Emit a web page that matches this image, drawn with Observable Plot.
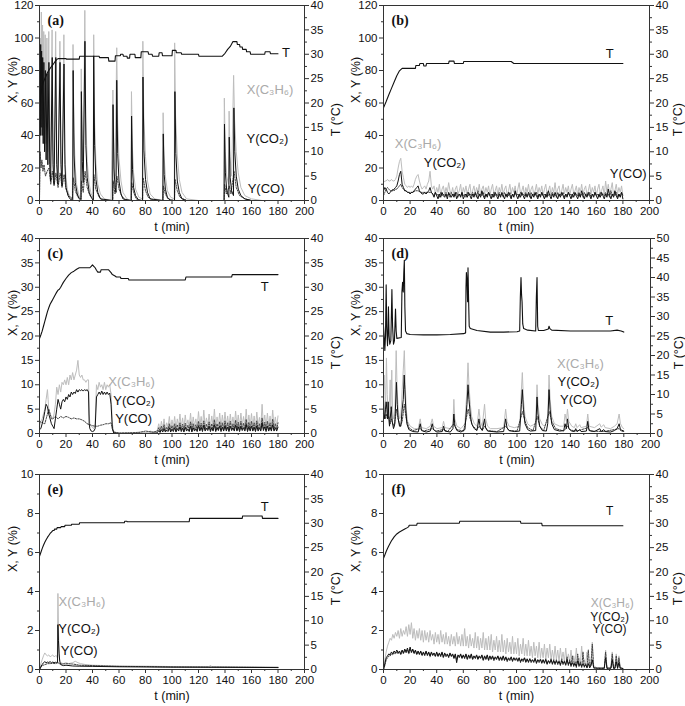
<!DOCTYPE html>
<html><head><meta charset="utf-8">
<script src="https://cdn.jsdelivr.net/npm/d3@7"></script>
<script src="https://cdn.jsdelivr.net/npm/@observablehq/plot@0.6"></script>
<style>
body{margin:0;background:#fff}
#wrap{position:relative;width:685px;height:706px;background:#fff;overflow:hidden}
.p{position:absolute}
</style></head>
<body><div id="wrap"></div>
<script>
// ---------- tick labels ----------
const xTicks = [0,20,40,60,80,100,120,140,160,180,200];
const xMinor = [10,30,50,70,90,110,130,150,170,190];
const yTicks120 = [0,20,40,60,80,100,120];
const yMinor120 = [10,30,50,70,90,110];
const yTicks40 = [0,5,10,15,20,25,30,35,40];
const yMinor40 = [2.5,7.5,12.5,17.5,22.5,27.5,32.5,37.5];
const yTicks10 = [0,2,4,6,8,10];
const yMinor10 = [1,3,5,7,9];
const tTicks40 = [0,5,10,15,20,25,30,35,40];
const tMinor40 = [2.5,7.5,12.5,17.5,22.5,27.5,32.5,37.5];
const tTicks50 = [0,5,10,15,20,25,30,35,40,45,50];
const tMinor50 = [2.5,7.5,12.5,17.5,22.5,27.5,32.5,37.5,42.5,47.5];

// ---------- panel (a) ----------
const aX = [[0,0],[0.3,55],[0.7,100],[1,60],[1.4,116],[1.8,50],[2.3,108],[2.7,45],[3.2,104],[3.7,40],[4.3,102],[4.9,35],[5.6,100],[6.2,30],[7,104],[7.6,30],[8.3,20],[9.5,105],[10.1,30],[11,18],[12.2,104],[12.9,30],[13.8,17],[15.4,98],[16.1,30],[17,15],[18.4,102],[19.1,30],[20,14],[21,7],[22.5,3],[24.8,1],[25.3,96],[26,42],[27,20],[28,10],[29.5,4],[31,1],[31.5,81],[32.2,38],[33,18],[34.2,117],[34.9,52],[36,24],[37.5,10],[39,4],[40.5,2],[40.9,102],[41.6,48],[42.6,23],[44,10],[46,4],[49,1],[54,0],[55.4,68],[56.2,30],[57,15],[58.3,94],[59,48],[60,26],[61.5,12],[63,5],[66,1],[69,0],[69.4,67],[70.1,33],[71,17],[72.5,7],[75,2],[77.6,1],[78,98],[78.7,52],[80,27],[81.5,12],[83.5,4],[87,1],[93,0],[93.3,54],[94,28],[95,15],[96.5,6],[99,2],[101.7,1],[102,97],[102.7,52],[104,28],[105.5,13],[107.5,5],[111,1],[120,0],[139.2,0],[139.5,63],[140.2,30],[141.3,15],[142.7,10],[143.1,55],[143.8,27],[145,15],[146.5,77],[147.2,50],[148.5,30],[150,17],[152,8],[155,3],[160,1],[168,0],[180,0]];
const aCO2 = [[0,0],[0.3,80],[0.6,40],[0.9,96],[1.2,45],[1.6,92],[2,40],[2.4,88],[2.8,35],[3.3,85],[3.8,30],[4.4,80],[5,25],[5.7,78],[6.3,22],[7.1,85],[7.7,22],[8.4,12],[9.6,88],[10.2,22],[11,10],[12.3,88],[13,22],[13.9,10],[15.5,85],[16.2,22],[17,9],[18.5,84],[19.2,22],[20,8],[21.5,3],[23,1],[25.1,0],[25.4,80],[26.1,28],[27,11],[28.5,4],[30,1],[31.3,0],[31.6,67],[32.3,24],[33,11],[34.3,98],[35,34],[36,14],[37.5,5],[39,2],[40.6,0],[40.9,89],[41.6,34],[42.6,13],[44,5],[46,1],[55.2,0],[55.5,59],[56.2,20],[57,8],[57.8,5],[58.3,74],[59,29],[60,12],[61.5,4],[63,1],[69.2,0],[69.5,52],[70.2,19],[71,8],[72.5,3],[75,0],[77.8,0],[78.1,76],[78.8,31],[80,13],[81.5,5],[83.5,1],[93.1,0],[93.4,41],[94.1,16],[95,7],[96.5,2],[99,0],[101.9,0],[102.2,67],[102.9,29],[104,12],[105.5,5],[107.5,1],[111,0],[139.3,0],[139.6,47],[140.3,17],[141.3,6],[142.9,2],[143.2,39],[143.9,14],[145,6],[146.4,3],[146.7,57],[147.4,30],[148.5,15],[150,7],[152,3],[155,1],[160,0],[180,0]];
const aCO = [[0,0],[0.5,30],[1.2,20],[1.8,25],[2.6,18],[3.4,22],[4.5,15],[5.8,18],[7.2,20],[8.5,10],[9.7,18],[11,9],[12.4,17],[14,8],[15.6,17],[17,8],[18.6,16],[20,7],[22,3],[24.8,1],[25.5,14],[27,6],[29,2],[31.4,1],[31.7,12],[33,5],[34.4,18],[36,8],[38,3],[40.7,1],[41,16],[42.5,7],[45,2],[48,0],[55.3,0],[55.6,12],[57,4],[58.4,15],[60,7],[62,3],[65,0],[69.3,0],[69.6,11],[71,5],[73,1],[77.8,0],[78.2,14],[80,6],[82,2],[86,0],[93.2,0],[93.5,9],[95,4],[97,1],[101.9,0],[102.3,13],[104,6],[106,2],[111,0],[139.4,0],[139.7,10],[141,4],[143.3,9],[144.5,4],[146.8,18],[148.5,8],[151,3],[155,1],[160,0],[180,0]];
const aT = [[0,20.3],[1,22],[2,23.3],[3,24.3],[4,25],[5,25.6],[6,26.2],[7,26.7],[8,27.1],[9,27.5],[10,27.8],[11,28.2],[12,28.6],[13,28.9],[14,29.1],[20,29.1],[20.3,29],[30,29],[30.3,29.6],[45,29.6],[45.3,29.3],[52,29.3],[52.3,28.6],[57,28.6],[57.3,29.7],[61,29.7],[61.3,30],[63,30],[63.3,29.6],[66,29.6],[66.3,29.2],[68,29.2],[68.3,30],[72,30],[72.3,29.3],[76.5,29.3],[76.8,30.5],[82,30.5],[82.3,30],[85,30],[85.3,29.6],[90,29.6],[90.3,30.3],[92.5,30.3],[92.8,29.7],[100,29.7],[100.3,30.8],[103,30.8],[103.3,30.3],[107,30.3],[107.3,30],[120,30],[120.3,29.6],[138,29.6],[140,30.2],[142,31],[144,31.6],[146,32.6],[149,32.6],[149.3,32],[151,32],[151.3,31.5],[153,31.5],[153.3,31],[156,31],[156.3,30.5],[159,30.5],[159.3,30],[170,30],[170.3,30.5],[174,30.5],[174.3,30.1],[180,30.1]];
const aLabels = [{t:174,y:68,s:"X(C₃H₆)",c:"#aaa"},{t:172,y:38,s:"Y(CO₂)",c:"#111"},{t:171,y:7,s:"Y(CO)",c:"#111"},{t:186,y:91,s:"T",c:"#111"}];

// ---------- panel (b) ----------
const bXearly = [[0,11],[1,12],[2,12],[3,13],[4,12],[5,12],[6,13],[7,12],[8,12],[9,13],[10,15],[11,20],[12,24],[13,26],[14,18],[15,14],[16,10],[17,9],[18,8],[19,9],[20,8],[21,9],[22,8],[23,10],[24,13],[25,15],[26,16],[27,12],[28,9],[29,7],[30,8],[31,9],[32,7],[33,10],[34,12],[35,18],[36,9]];
const bXnoise = [7,9,4,8,5,10,3,7,9,4, 8,5,11,6,4,8,3,7,9,4, 6,10,3,8,5,9,4,7,10,3, 6,9,4,8,5,10,3,7,9,4, 8,5,9,3,7,10,4,6,9,3, 8,5,10,4,7,9,3,6,10,4, 8,5,9,3,7,11,4,6,9,3, 8,5,10,4,7,9,3,6,10,4, 8,5,9,3,7,10,4,6,9,3, 8,5,11,4,7,9,3,6,10,4, 8,5,9,3,7,10,4,6,9,3, 8,5,10,4,7,9,3,6,10,4, 8,5,9,3,7,10,4,6,9,3, 12,5,10,4,7,11,3,6,10,4, 8,5,9,3];
const bCO2early = [[0,6],[1,8],[2,7],[3,5],[4,4],[5,5],[6,6],[7,6],[8,7],[9,8],[10,9],[11,12],[12,16],[13,18],[14,10],[15,8],[16,6],[17,6],[18,5],[19,5],[20,4],[21,5],[22,5],[23,6],[24,7],[25,8],[26,9],[27,6],[28,5],[29,4],[30,4],[31,5],[32,4],[33,5],[34,6],[35,8],[36,5]];
const bCO2noise = [4,2,5,3,1,4,2,5,3,2, 4,1,5,3,2,4,2,5,1,3, 4,2,5,1,3,4,2,5,3,1, 4,2,5,3,1,4,2,6,3,1, 4,2,5,3,1,4,2,5,3,1, 4,2,5,3,1,4,2,5,3,1, 4,2,6,3,1,4,2,5,3,1, 4,2,5,3,1,4,2,5,3,1, 4,2,5,3,1,4,2,6,3,1, 4,2,5,3,1,4,2,5,3,1, 4,2,5,3,1,4,2,5,3,1, 4,2,6,3,1,4,2,5,3,1, 4,2,5,3,1,4,2,5,3,1, 4,2,7,3,1,4,2,6,3,1, 4,2,5,1];
const bCOearly = [[0,3],[1,5],[2,7],[3,8],[4,7],[5,6],[6,6],[7,7],[8,6],[9,7],[10,7],[11,8],[12,9],[13,10],[14,8],[15,7],[16,6],[17,6],[18,5],[19,5],[20,5],[22,5],[24,6],[26,6],[28,5],[30,5],[32,5],[34,5],[36,5]];
const bCOnoise = [4,3,5,3,4,2,5,3,4,3, 5,3,4,2,5,3,4,3,5,2, 4,3,5,3,4,2,5,3,4,3, 5,3,4,2,6,3,4,3,5,2, 4,3,5,3,4,2,5,3,4,3, 5,3,4,2,5,3,4,3,5,2, 4,3,5,3,4,2,5,3,4,3, 5,3,4,2,5,3,4,3,5,2, 4,3,5,3,4,2,5,3,4,3, 5,3,4,2,5,3,4,3,5,2, 4,3,5,3,4,2,5,3,4,3, 5,3,4,2,5,3,4,3,5,2, 4,3,5,3,4,2,5,3,4,3, 5,3,4,2,6,3,4,3,5,2, 4,3,5,3];
const bT = [[0,19],[2,20.3],[4,21.7],[6,23],[8,24.3],[10,25.6],[12,26.6],[14,27.1],[24,27.1],[24.3,27.7],[27,27.7],[27.3,28.1],[30,28.1],[30.3,27.6],[32,27.6],[32.3,28.1],[49,28.1],[49.3,28.6],[53,28.6],[53.3,28.1],[60,28.1],[60.3,28.5],[96,28.5],[98,28.1],[180,28.1]];
const bLabels = [{t:26,y:35,s:"X(C₃H₆)",c:"#aaa"},{t:46,y:23,s:"Y(CO₂)",c:"#111"},{t:184,y:16.5,s:"Y(CO)",c:"#111"},{t:170,y:90,s:"T",c:"#111"}];

// ---------- panel (c) ----------
const cXearly = [[0,1.5],[1,2.5],[2,3],[3,4],[4,5],[5,7],[6,9],[6.5,7],[7,5],[8,4],[9,3.5],[10,3],[11,4],[12,6],[13,9.5],[14,8],[15,10],[16,8.5],[17,10.5],[18,10],[19,11],[20,10],[21,11.5],[22,10],[23,12],[24,11],[25,12.5],[26,11],[27,12],[28,13],[29,15],[30,12],[31,11.5],[32,12],[33,11],[34,11],[35,10.5],[36,11],[37,11],[37.5,4],[38,2],[39,1.5],[40,1.2],[41,1],[42,2],[43,10],[44,9],[45,10.5],[46,9.5],[47,10],[48,9],[49,10.5],[50,9],[51,10],[52,9.5],[53,10],[54,8],[55,2],[56,0.3],[60,0.1],[70,0.1],[75,0.3],[80,0.2],[84,0.5],[86,0.2],[88,0.5]];
const cXnoise = [0.8,2,0.6,2.5,1,3,0.8,2.2,1.2,3.5,1,2.8, 1.2,3.5,1,3,1.5,4,1.2,3.2,1,3.8,1.5,2.8,1.2,4.2,1,3.4,1.5,3,1.2,4.5, 1.5,3.5,1.2,4.8,1.4,3.2,1.6,4,1.2,3.6,1.5,5,1.3,3.4,1.6,4.2,1.2,3.8,1.5,4.4, 1.4,3.6,1.2,4,1.6,3.4,1.3,4.6,1.5,3.8,1.2,4.2,1.6,3.5,1.4,5,1.3,3.8,1.5,4.1, 1.4,3.6,1.2,4.4,1.5,3.3,1.3,6,1.6,3.8,1.2,4.2,1.5,3.6,1.3,4.8,1.5,3.4,1.4,3.6];
const cCO2early = [[0,0.8],[1,1],[2,2],[3,3],[4,4.5],[5,6],[6,5.5],[7,4],[8,3],[9,2],[10,1.5],[11,1],[12,3],[13,5],[14,7],[15,6],[16,5],[17,6.5],[18,7],[19,6.5],[20,7.5],[21,7],[22,8],[23,7.5],[24,8.5],[25,8],[26,8.5],[27,8.2],[28,9],[29,8.5],[30,9],[31,8.8],[32,9],[33,8.7],[34,9],[35,8.8],[36,9],[37,8.5],[37.5,2],[38,1],[39,0.5],[40,0.4],[41,0.5],[42,1],[43,7.5],[44,8],[45,8.5],[46,8],[47,8.7],[48,8],[49,8.5],[50,8],[51,8.5],[52,8],[53,8.3],[54,6],[55,1],[56,0.1],[60,0],[80,0],[88,0.1]];
const cCO2noise = [0.2,0.6,0.2,0.8,0.3,1,0.3,0.7,0.4,1.2,0.3,0.9, 0.4,1.2,0.3,1,0.5,1.4,0.4,1.1,0.3,1.3,0.5,0.9,0.4,1.5,0.3,1.2,0.5,1,0.4,1.6, 0.5,1.3,0.4,1.7,0.5,1.1,0.6,1.5,0.4,1.2,0.5,1.8,0.4,1.2,0.6,1.5,0.4,1.3,0.5,1.6, 0.5,1.3,0.4,1.5,0.6,1.2,0.5,1.7,0.5,1.4,0.4,1.5,0.6,1.2,0.5,1.9,0.4,1.4,0.5,1.5, 0.5,1.3,0.4,1.6,0.5,1.2,0.5,2.2,0.6,1.4,0.4,1.5,0.5,1.3,0.5,1.8,0.5,1.2,0.5,1.3];
const cCOearly = [[0,2.5],[2,2.2],[4,2],[5,3],[6,4],[7,5],[8,4],[9,3],[10,3],[12,3.5],[14,3],[16,3.5],[18,3.2],[20,3.5],[22,3.3],[24,3],[26,3.2],[28,3],[30,3],[32,2.8],[34,2.5],[36,2],[38,1.8],[40,1.6],[42,1.5],[44,1.5],[46,1.7],[48,1.8],[50,2],[52,2],[54,2.2],[55,1],[56,0.3],[60,0.1],[75,0.2],[80,0.5],[85,0.3],[88,0.4]];
const cCOnoise = [0.5,1.2,0.4,1.5,0.6,1.8,0.5,1.3,0.7,2,0.6,1.6, 0.7,2,0.6,1.8,0.8,2.2,0.7,1.9,0.6,2.1,0.8,1.7,0.7,2.4,0.6,2,0.8,1.8,0.7,2.5, 0.8,2.1,0.7,2.6,0.8,1.9,0.9,2.4,0.7,2,0.8,2.8,0.7,2,0.9,2.4,0.7,2.2,0.8,2.6, 0.8,2.2,0.7,2.5,0.9,2,0.8,2.7,0.8,2.3,0.7,2.5,0.9,2.1,0.8,2.9,0.7,2.3,0.8,2.5, 0.8,2.2,0.7,2.6,0.8,2,0.8,3.2,0.9,2.3,0.7,2.5,0.8,2.2,0.8,2.9,0.8,2,0.8,2.2];
const cT = [[0,19.5],[1,20.2],[2,21],[3,22],[4,23],[5,24],[6,25],[7,25.8],[8,26.5],[9,27],[10,27.5],[11,28],[12,28.5],[13,29],[14,29.4],[15,29.6],[16,30],[17,30.5],[18,31],[20,31.8],[22,32.5],[24,33],[26,33.3],[28,33.7],[30,34],[38,34],[39,34.3],[40,34.6],[41,34.3],[42,34],[43,33.5],[44,33.1],[46,33.1],[46.5,33.6],[52,33.6],[53,33.3],[54,33],[55,32.6],[57,32.3],[58,32.1],[61,32.1],[61.5,31.8],[67,31.8],[67.5,31.5],[110,31.5],[110.5,32.1],[145,32.1],[145.5,32.6],[180,32.6]];
const cLabels = [{t:69.5,y:10.6,s:"X(C₃H₆)",c:"#aaa"},{t:71.5,y:6.8,s:"Y(CO₂)",c:"#111"},{t:71,y:3.1,s:"Y(CO)",c:"#111"},{t:170,y:30,s:"T",c:"#111"}];

// ---------- panel (d) ----------
const dX = [[0,8],[0.5,12],[1,9],[1.5,5],[2.2,15.5],[2.8,8],[3.3,5],[4,3],[5,11],[5.5,5],[6.2,13],[6.8,5],[7.5,3],[8.5,4],[9.5,17],[10.2,9],[11,5],[12,3],[13,3.5],[14,9],[14.8,13],[15.6,17],[16.3,10],[17,5],[18,2.5],[20,1.5],[23,1],[26,1],[27.5,3],[28.5,1.2],[32,1],[35,1.5],[36.5,3],[37.5,1.5],[40,1],[44,1.2],[45,2.5],[46,1.2],[50,1],[52,2],[52.7,7],[53.4,3],[55,1.5],[58,1],[61,2],[62.5,9],[63.3,14.5],[64,10],[65,6],[66,3.5],[68,2],[70,1.5],[71.5,5],[72.5,2.5],[74,1.5],[75.7,6],[76.5,3],[78,1.5],[80,1],[85,1],[90,1.2],[91.5,5],[92.5,2.5],[94,1.5],[98,1.2],[102,1.5],[103.3,9],[104,12.5],[104.8,7],[106,3.5],[108,2],[110,1.5],[114,2],[115,10],[115.7,6],[117,3],[119,1.8],[121,1.5],[123,3],[124,12],[124.8,7],[126,3.5],[128,2],[132,1.5],[135,1.5],[136,4],[137,2.5],[137.8,5],[138.8,2.5],[141,1.5],[143,1.2],[144,2],[145,1.2],[147,1.8],[148,1.2],[152,1.5],[153,4],[154,1.5],[158,1.2],[162,2],[163,1.3],[165,1.8],[166,1.2],[170,1],[173,1.5],[175,2],[176.5,4],[177.5,2],[179,1.2],[180,1]];
const dCO2 = [[0,7],[0.5,4],[1,3],[1.5,5],[2,6.5],[2.5,5],[3,3],[3.5,6.5],[4,3],[4.5,1.5],[5,3],[5.8,5.5],[6.5,2.5],[7.5,1],[8.5,2],[9.7,10.5],[10.3,6],[11,3],[12,1.5],[13,1.5],[14,5],[14.8,7],[15.5,12],[16,9],[16.7,5],[17.5,2],[19,0.8],[22,0.4],[26,0.3],[27.5,2],[28.5,0.6],[32,0.3],[35,0.5],[36.5,2],[37.5,0.8],[40,0.3],[44,0.4],[45,1.5],[46,0.5],[50,0.3],[52,1],[52.7,4],[53.5,1.5],[55,0.6],[58,0.3],[61,0.8],[62.5,6],[63.3,10],[64,7],[65,4],[66,2],[68,1],[70,0.6],[71.5,3],[72.5,1.2],[74,0.6],[75.7,3],[76.5,1.2],[78,0.5],[85,0.3],[90,0.4],[91.5,3],[92.5,1.2],[94,0.6],[98,0.4],[102,0.5],[103.3,6],[104,9],[104.8,5],[106,2],[108,0.8],[110,0.5],[114,0.6],[115,7.5],[115.7,4],[117,1.5],[119,0.6],[122,0.5],[123,2],[124,9],[124.8,5],[126,2],[128,0.8],[132,0.5],[135,0.6],[136,2],[137,1],[137.8,3],[138.8,1],[141,0.5],[143,0.4],[144,1],[145,0.4],[147,0.8],[148,0.4],[152,0.5],[153,2.5],[154,0.6],[158,0.4],[162,1],[163,0.4],[165,0.8],[166,0.4],[170,0.3],[173,0.6],[175,1],[176.5,2],[177.5,0.8],[180,0.5]];
const dCO = [[0,4],[1,3],[2,4],[3,3],[4,3.5],[5,2],[6,3],[7,2],[8,1.5],[9.8,5],[11,3],[12.5,1.5],[14,2.5],[15.6,6],[17,3],[19,1.2],[22,0.6],[27.5,1],[30,0.5],[36.5,1],[39,0.5],[45,0.8],[48,0.4],[52.8,2],[55,0.8],[60,0.5],[63.4,5],[65,3],[67,1.5],[70,0.8],[71.6,1.5],[74,0.7],[75.8,1.5],[78,0.6],[85,0.4],[91.6,1.5],[94,0.6],[100,0.5],[104.2,4.5],[106,2.5],[108,1.2],[112,0.6],[115.1,3.5],[117,1.5],[120,0.6],[124.2,4.5],[126,2.5],[129,1],[135,0.5],[137.9,1.5],[140,0.7],[145,0.5],[153.1,1.2],[155,0.5],[165,0.4],[176.6,1],[178,0.5],[180,0.4]];
const dT = [[0,27.5],[0.5,25],[1,21.3],[1.5,25],[2,38.1],[2.4,27.5],[3,22.5],[3.3,25],[3.7,32.5],[4.2,25],[4.7,22.9],[5.5,23.8],[6.3,36.9],[6.8,27.5],[7.5,22.9],[8.2,23.8],[9,31.9],[9.5,26.3],[10,24.4],[13.3,24.6],[13.8,36.3],[14.3,38.8],[14.8,36.3],[15.2,41.3],[15.6,44.4],[16,32.5],[16.5,26.3],[17.5,25.6],[20,25.4],[30,25.3],[40,25.3],[50,25.4],[60,25.6],[61.5,25.8],[61.8,37.5],[62.1,41.3],[62.6,38.8],[63,33.8],[63.3,42.5],[63.7,35],[64.2,27.5],[65,26.9],[70,26.4],[80,26],[90,26],[100,26.1],[102,26.3],[102.5,35],[103,40],[103.4,35.6],[103.8,33.8],[104.3,28.1],[105,26.9],[108,26.5],[114,26.3],[114.5,35],[115,40],[115.5,27.5],[116,26.4],[120,26.4],[123.5,26.8],[124,27.5],[124.6,26.9],[126,26.5],[140,26.3],[160,26.3],[170,26.3],[175,26.5],[178,26.3],[180,26]];
const dLabels = [{t:147.5,y:14.2,s:"X(C₃H₆)",c:"#aaa"},{t:146,y:10.5,s:"Y(CO₂)",c:"#111"},{t:146,y:7,s:"Y(CO)",c:"#111"},{t:169,y:23.1,s:"T",c:"#111"}];

// ---------- panel (e) ----------
const eX = [[0,0],[1,0.3],[2,0.5],[3,0.7],[4,0.85],[5,0.75],[6,0.7],[7,0.75],[8,0.65],[9,0.7],[10,0.75],[11,0.65],[12,0.7],[13,0.7],[13.5,0.6],[13.9,3.9],[14.3,2.2],[14.7,1],[15.2,0.5],[16,0.35],[18,0.3],[20,0.35],[22,0.3],[25,0.35],[27,0.42],[29,0.35],[31,0.3],[35,0.25],[40,0.22],[50,0.2],[60,0.18],[80,0.17],[100,0.15],[128,0.15],[129,0.22],[130,0.15],[150,0.14],[165,0.14],[180,0.13]];
const eCO2 = [[0,0],[1,0.15],[2,0.25],[3,0.35],[4,0.4],[5,0.35],[6,0.38],[7,0.36],[8,0.4],[9,0.35],[10,0.38],[11,0.35],[12,0.37],[13,0.36],[13.6,0.35],[13.9,2.3],[14.3,1.5],[14.8,0.8],[15.3,0.4],[16,0.25],[18,0.2],[20,0.22],[25,0.18],[30,0.17],[40,0.16],[60,0.14],[100,0.12],[140,0.11],[180,0.1]];
const eCO = [[0,0],[1,0.1],[2,0.2],[4,0.25],[6,0.3],[8,0.3],[10,0.32],[12,0.3],[14,0.35],[15,0.3],[17,0.28],[20,0.3],[25,0.28],[28,0.25],[30,0.22],[40,0.2],[60,0.16],[80,0.15],[100,0.13],[140,0.12],[180,0.1]];
const eT = [[0,23.2],[1,24],[2,24.8],[3,25.5],[4,26.1],[5,26.6],[6,27.1],[7,27.5],[8,27.9],[9,28.2],[10,28.5],[11,28.5],[11.3,28.8],[13,28.8],[13.3,29.1],[16,29.1],[16.3,29.3],[19,29.3],[19.3,29.6],[24,29.6],[24.3,29.8],[30,29.8],[30.3,30.1],[64,30.1],[64.3,30.4],[66,30.4],[66.3,30.3],[113,30.3],[113.3,31],[153,31],[153.3,31.5],[168,31.5],[168.3,31],[180,31]];
const eLabels = [{t:32,y:3.45,s:"X(C₃H₆)",c:"#aaa"},{t:30,y:2.07,s:"Y(CO₂)",c:"#111"},{t:30,y:0.95,s:"Y(CO)",c:"#111"},{t:170,y:8.33,s:"T",c:"#111"}];

// ---------- panel (f) ----------
const fX = [0,0.5,0.9,1.2,1.4,1.6,1.5,1.8,1.6,1.9, 1.7,2.0,1.6,2.1,1.7,2.0,1.8,2.2,1.7,2.3, 1.8,2.4,1.6,2.1,1.5,2.0,1.6,2.1,1.5,2.0, 1.4,2.0,1.5,1.9,1.4,2.0,1.5,1.8,1.3,1.9, 1.4,1.8,1.3,2.0,1.4,1.8,1.3,1.9,1.3,1.7, 1.2,1.8,1.3,1.7,1.2,1.9,1.3,1.7,1.2,1.8, 1.2,2.1,1.2,1.7,1.1,1.8,1.2,1.6,1.1,1.9, 1.1,1.7,1.0,1.6,1.1,1.9,1.0,1.6,1.0,1.7, 1.0,1.8,0.9,1.5,1.0,1.7,0.9,1.5,0.9,1.8, 0.9,1.5,0.8,1.6,0.9,1.4,0.8,1.7,0.8,1.4, 0.8,1.6,0.7,1.3,0.8,1.6,0.7,1.3,0.7,1.5, 0.7,1.2,0.6,1.4,0.7,1.2,0.6,1.4,0.6,1.1, 0.6,1.3,0.5,1.1,0.6,1.3,0.5,1.0,0.5,1.2, 0.5,1.0,0.4,1.1,0.5,0.9,0.4,1.1,0.4,0.8, 0.4,1.0,0.35,0.7,0.35,1.1,0.3,0.6,0.3,1.2, 0.3,0.5,0.25,0.9,0.25,0.4,0.2,1.4,0.2,0.15, 0.1,0.1,0.1,0.1,0.1,0.1,0.1,1.0,0.1,0.1, 0.1,0.1,0.9,0.1,0.1,0.8,0.1,0.7,0.1,0.1, 0.05];
const fCO2 = [0,0.3,0.6,0.7,0.8,0.75,0.9,0.8,0.95,0.85, 1.0,0.85,0.95,0.8,1.0,0.85,1.05,0.9,1.1,0.85, 1.15,0.9,1.05,0.85,1.0,0.8,0.95,0.8,0.95,0.75, 0.9,0.75,0.95,0.75,0.9,0.7,0.9,0.75,0.85,0.7, 0.9,0.7,0.85,0.7,0.9,0.65,0.85,0.7,0.8,0.65, 0.85,0.7,0.8,0.6,0.8,0.35,0.75,0.65,0.8,0.6, 0.75,0.6,0.8,0.55,0.75,0.6,0.8,0.55,0.7,0.6, 0.75,0.55,0.7,0.6,0.75,0.5,0.7,0.55,0.75,0.5, 0.7,0.55,0.7,0.5,0.65,0.55,0.7,0.5,0.65,0.5, 0.7,0.5,0.65,0.45,0.6,0.5,0.65,0.45,0.6,0.5, 0.6,0.45,0.6,0.4,0.55,0.45,0.6,0.4,0.55,0.4, 0.55,0.4,0.5,0.4,0.55,0.35,0.5,0.4,0.5,0.35, 0.5,0.35,0.5,0.3,0.45,0.35,0.5,0.3,0.45,0.3, 0.45,0.3,0.4,0.25,0.45,0.3,0.4,0.25,0.5,0.25, 0.4,0.2,0.35,0.2,0.3,0.15,0.45,0.2,0.3,0.15, 0.3,0.15,0.25,0.1,0.3,0.1,0.2,0.5,0.1,0.08, 0.08,0.07,0.07,0.07,0.07,0.07,0.07,0.6,0.07,0.07, 0.07,0.07,0.5,0.07,0.07,0.4,0.07,0.35,0.07,0.07, 0.05];
const fCO = [0,0.2,0.5,0.6,0.7,0.7,0.8,0.75,0.85,0.8, 0.9,0.8,0.9,0.75,0.95,0.8,1.0,0.85,1.0,0.8, 1.05,0.85,1.0,0.8,0.95,0.75,0.9,0.75,0.9,0.7, 0.85,0.7,0.9,0.7,0.85,0.65,0.85,0.7,0.8,0.65, 0.85,0.65,0.8,0.65,0.85,0.6,0.8,0.65,0.75,0.6, 0.8,0.65,0.75,0.55,0.75,0.5,0.7,0.6,0.75,0.55, 0.7,0.55,0.75,0.5,0.7,0.55,0.75,0.5,0.65,0.55, 0.7,0.5,0.65,0.55,0.7,0.45,0.65,0.5,0.7,0.45, 0.65,0.5,0.65,0.45,0.6,0.5,0.65,0.45,0.6,0.45, 0.65,0.45,0.6,0.4,0.55,0.45,0.6,0.4,0.6,0.45, 0.55,0.4,0.6,0.35,0.5,0.4,0.6,0.35,0.5,0.35, 0.55,0.35,0.5,0.35,0.6,0.3,0.5,0.35,0.55,0.3, 0.5,0.3,0.55,0.25,0.45,0.3,0.55,0.25,0.5,0.25, 0.5,0.25,0.45,0.2,0.55,0.25,0.45,0.2,0.65,0.2, 0.5,0.15,0.7,0.15,0.4,0.1,0.8,0.15,0.4,0.1, 0.9,0.1,0.3,0.08,1.0,0.08,0.3,1.3,0.08,0.06, 0.06,0.05,0.05,0.05,0.05,0.05,0.05,0.9,0.05,0.05, 0.05,0.05,0.8,0.05,0.05,0.7,0.05,0.6,0.05,0.05, 0.04];
const fT = [[0,22.8],[1,23.5],[2,24.2],[3,24.8],[4,25.4],[5,25.9],[6,26.4],[7,26.8],[8,27.2],[9,27.5],[10,27.8],[12,28.2],[14,28.5],[16,28.8],[18,29.1],[19,29.3],[19.3,29.6],[25,29.6],[25.3,30],[57,30],[57.3,30.4],[103,30.4],[103.3,30],[119,30],[119.3,29.5],[180,29.5]];
const fLabels = [{t:172,y:3.38,s:"X(C₃H₆)",c:"#aaa"},{t:170,y:2.7,s:"Y(CO₂)",c:"#111"},{t:170,y:2.05,s:"Y(CO)",c:"#111"},{t:170,y:8.1,s:"T",c:"#111"}];

// helper: attach typed values to their minute stamps
const seq = (start, vals) => vals.map((v, i) => [start + i, v]);

const panels = [
  {letter:"(a)", left:0, top:0, w:342, h:235, mL:39, mR:38, mT:5, mB:35, yMax:120, yT:yTicks120, yM:yMinor120, tMax:40, tT:tTicks40, tM:tMinor40,
   X:aX, CO2:aCO2, CO:aCO, T:aT, labels:aLabels, lx:-27, rx:31, fs:13},
  {letter:"(b)", left:342, top:0, w:343, h:235, mL:41, mR:36, mT:5, mB:35, yMax:120, yT:yTicks120, yM:yMinor120, tMax:40, tT:tTicks40, tM:tMinor40,
   X:bXearly.concat(seq(37,bXnoise)), CO2:bCO2early.concat(seq(37,bCO2noise)), CO:bCOearly.concat(seq(37,bCOnoise)), T:bT, labels:bLabels, lx:-28, rx:28, fs:13},
  {letter:"(c)", left:0, top:231, w:342, h:237, mL:39, mR:38, mT:7, mB:35, yMax:40, yT:yTicks40, yM:yMinor40, tMax:40, tT:tTicks40, tM:tMinor40,
   X:cXearly.concat(seq(89,cXnoise)), CO2:cCO2early.concat(seq(89,cCO2noise)), CO:cCOearly.concat(seq(89,cCOnoise)), T:cT, labels:cLabels, lx:-27, rx:31, fs:13},
  {letter:"(d)", left:342, top:231, w:343, h:237, mL:41, mR:35, mT:7, mB:35, yMax:40, yT:yTicks40, yM:yMinor40, tMax:50, tT:tTicks50, tM:tMinor50,
   X:dX, CO2:dCO2, CO:dCO, T:dT, labels:dLabels, lx:-28, rx:28, fs:13},
  {letter:"(e)", left:0, top:466, w:342, h:240, mL:39, mR:38, mT:8, mB:37, yMax:10, yT:yTicks10, yM:yMinor10, tMax:40, tT:tTicks40, tM:tMinor40,
   X:eX, CO2:eCO2, CO:eCO, T:eT, labels:eLabels, lx:-27, rx:31, fs:13},
  {letter:"(f)", left:342, top:466, w:343, h:240, mL:41, mR:36, mT:8, mB:37, yMax:10, yT:yTicks10, yM:yMinor10, tMax:40, tT:tTicks40, tM:tMinor40,
   X:seq(0,fX), CO2:seq(0,fCO2), CO:seq(0,fCO), T:fT, labels:fLabels, lx:-28, rx:28, fs:12}
];

const wrap = document.getElementById("wrap");
const axisColor = "#333";
for (const p of panels) {
  const k = p.yMax / p.tMax;
  const chart = Plot.plot({
    width: p.w, height: p.h,
    marginLeft: p.mL, marginRight: p.mR, marginTop: p.mT, marginBottom: p.mB,
    x: {domain: [0, 200]},
    y: {domain: [0, p.yMax]},
    style: {fontFamily: "'Liberation Sans', Arial, sans-serif", fontSize: "11.5px", color: "#111", background: "transparent", overflow: "visible"},
    marks: [
      Plot.line(p.X, {x: d => d[0], y: d => d[1], stroke: "#bdbdbd", strokeWidth: 1}),
      Plot.line(p.CO, {x: d => d[0], y: d => d[1], stroke: "#444", strokeWidth: 1, strokeDasharray: "1.5,1.2"}),
      Plot.line(p.CO2, {x: d => d[0], y: d => d[1], stroke: "#111", strokeWidth: 1}),
      Plot.line(p.T, {x: d => d[0], y: d => d[1] * k, stroke: "#111", strokeWidth: 1.1}),
      Plot.frame({stroke: axisColor}),
      Plot.axisX({ticks: xTicks, tickSize: 4, tickPadding: 2, label: null, stroke: axisColor}),
      Plot.axisX({ticks: xMinor, tickSize: 2, tickFormat: () => "", label: null, stroke: axisColor}),
      Plot.axisY({ticks: p.yT, tickSize: 4, tickPadding: 2, label: null, stroke: axisColor}),
      Plot.axisY({ticks: p.yM, tickSize: 2, tickFormat: () => "", label: null, stroke: axisColor}),
      Plot.axisY({anchor: "right", ticks: p.tT.map(v => v * k), tickFormat: d => String(Math.round(d / k)), tickSize: 4, tickPadding: 2, label: null, stroke: axisColor}),
      Plot.axisY({anchor: "right", ticks: p.tM.map(v => v * k), tickSize: 2, tickFormat: () => "", label: null, stroke: axisColor}),
      Plot.text(["t (min)"], {text: d => d, frameAnchor: "bottom", dy: 30, fontSize: 12.5}),
      Plot.text(["X, Y (%)"], {text: d => d, frameAnchor: "left", dx: p.lx, rotate: -90, fontSize: 12.5}),
      Plot.text(["T (°C)"], {text: d => d, frameAnchor: "right", dx: p.rx, rotate: -90, fontSize: 12.5}),
      Plot.text([p.letter], {text: d => d, frameAnchor: "top-left", dx: 8, dy: 10, textAnchor: "start", fontFamily: "'Liberation Serif', 'Times New Roman', serif", fontWeight: "bold", fontSize: 14}),
      Plot.text(p.labels, {x: "t", y: "y", text: "s", fill: "c", fontSize: p.fs})
    ]
  });
  const div = document.createElement("div");
  div.className = "p";
  div.style.left = p.left + "px";
  div.style.top = p.top + "px";
  div.style.width = p.w + "px";
  div.style.height = p.h + "px";
  div.appendChild(chart);
  wrap.appendChild(div);
}
</script>
</body></html>
